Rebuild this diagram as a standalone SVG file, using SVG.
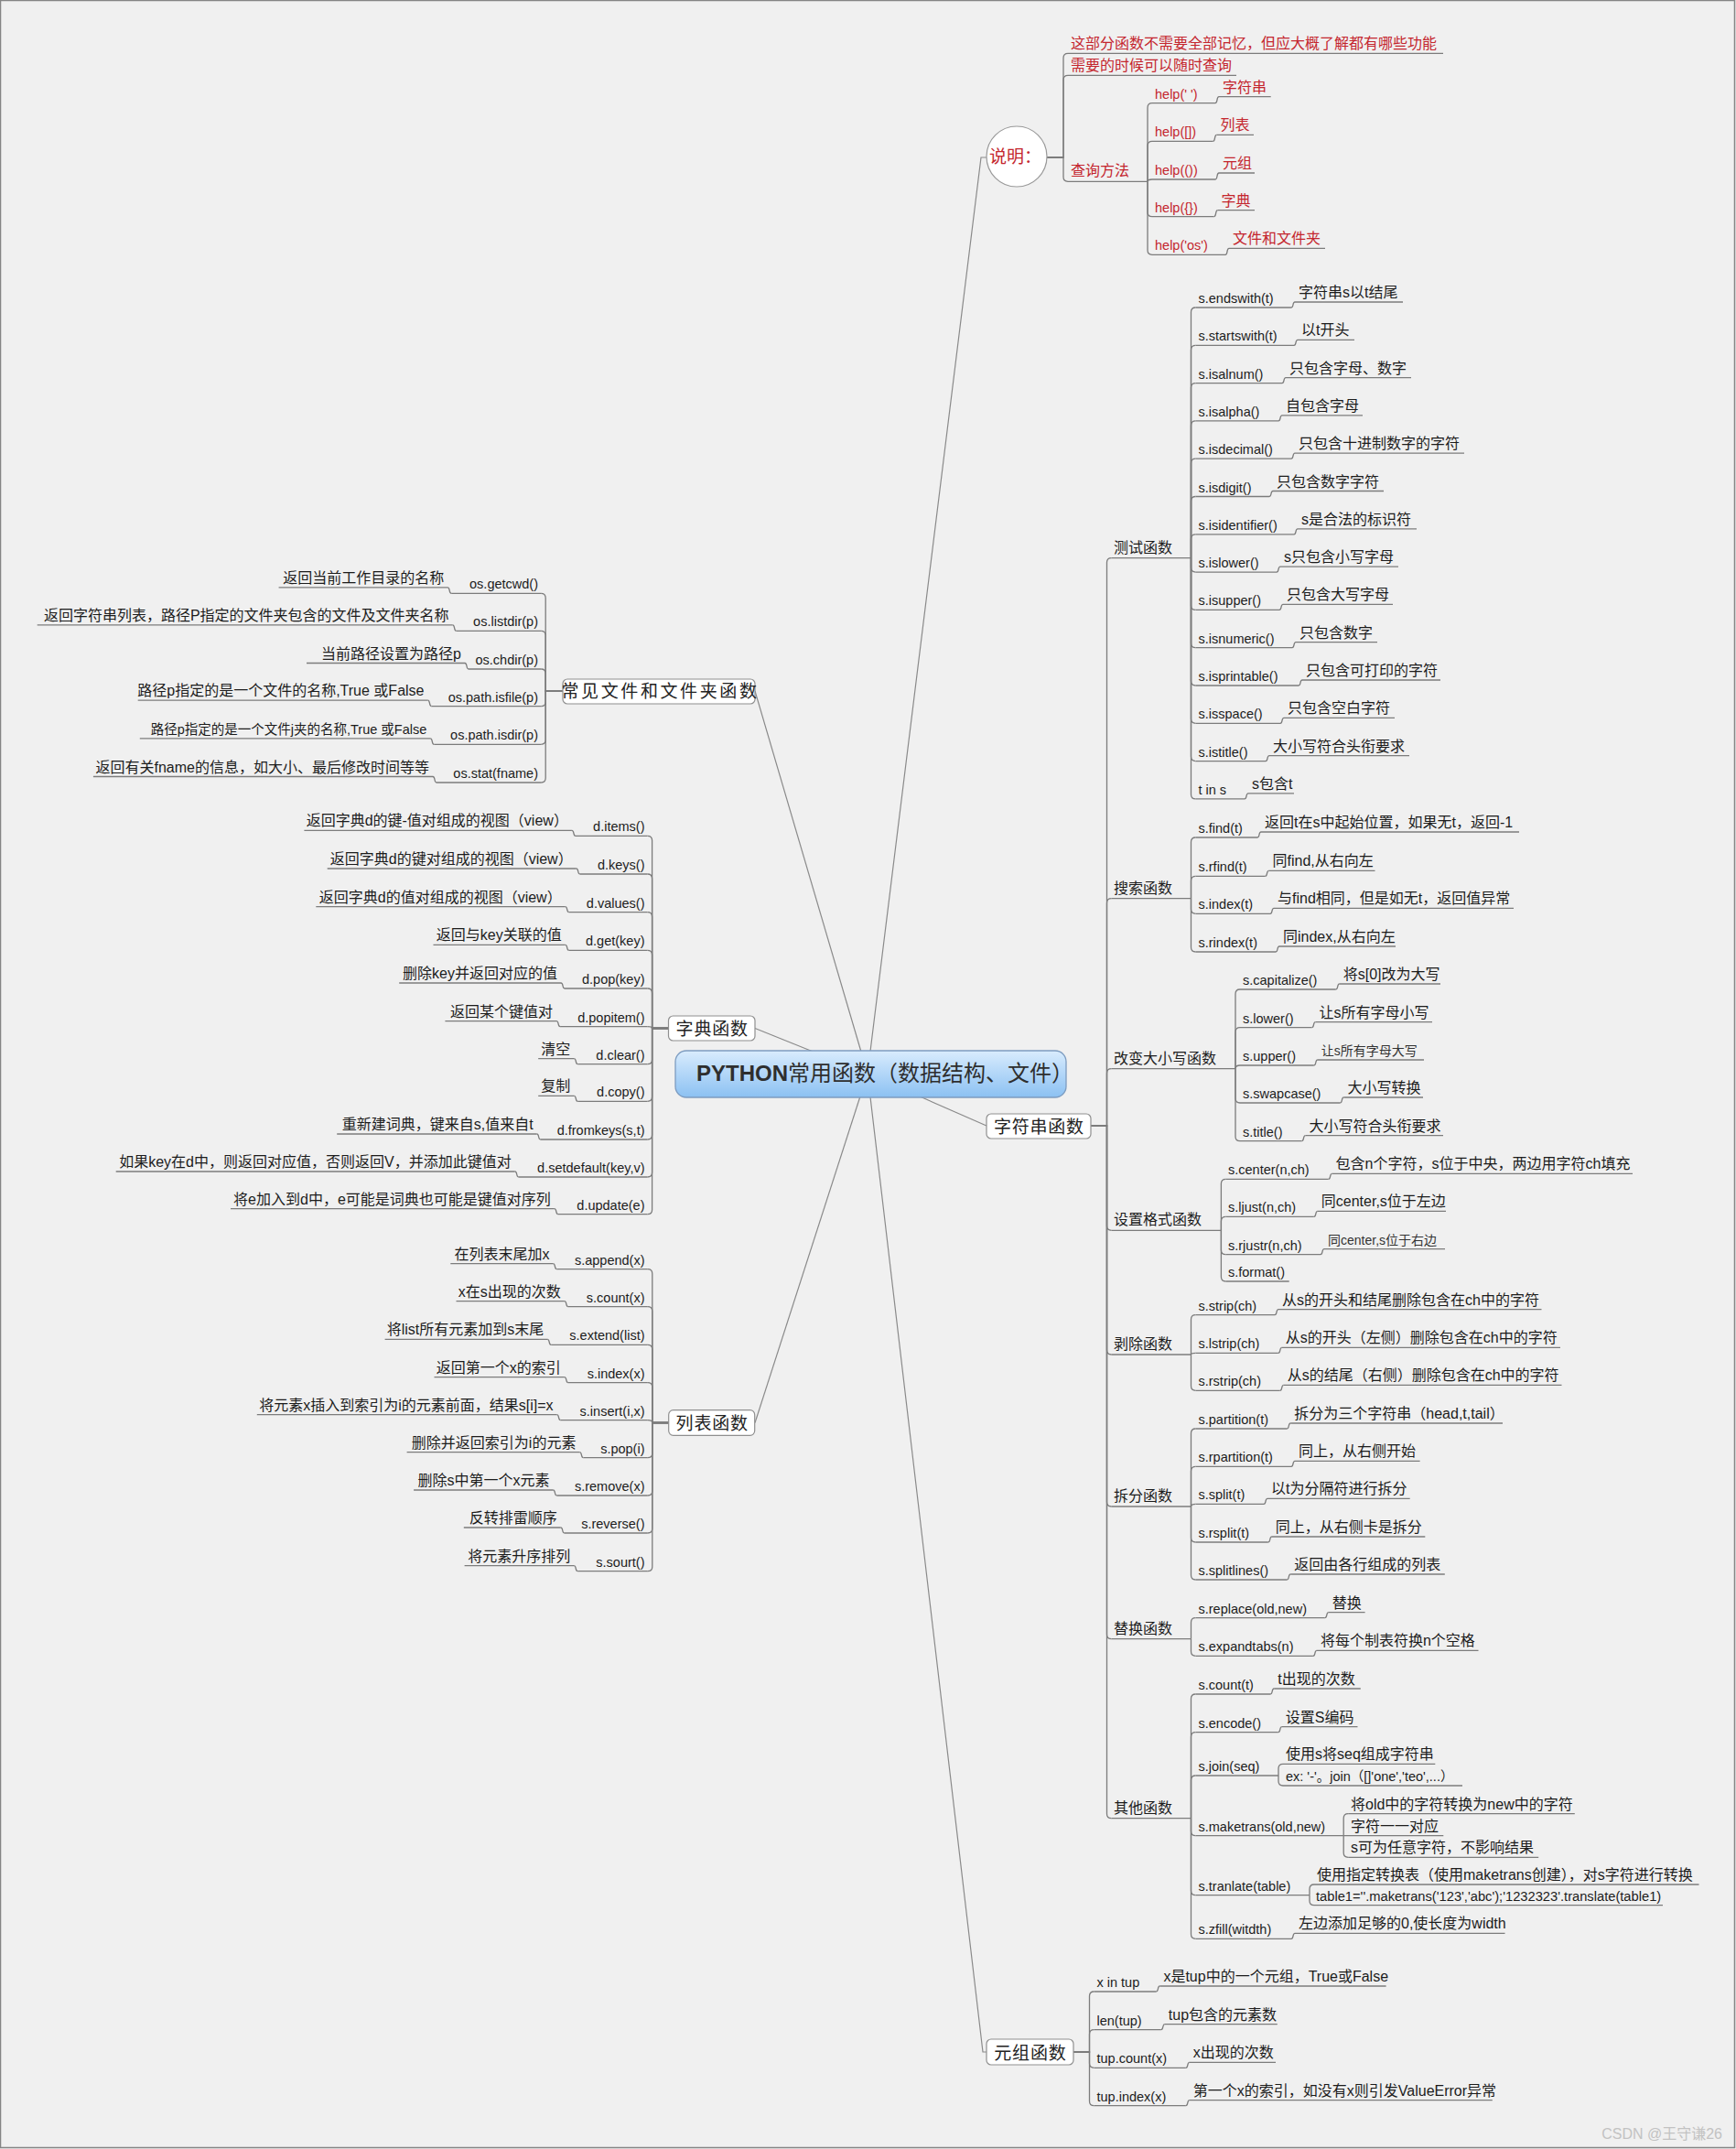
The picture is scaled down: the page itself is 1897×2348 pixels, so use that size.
<svg xmlns="http://www.w3.org/2000/svg" width="1897" height="2348" viewBox="0 0 1897 2348">
<defs>
<linearGradient id="cg" x1="0" y1="0" x2="0" y2="1">
<stop offset="0" stop-color="#d9ecfd"/>
<stop offset="0.5" stop-color="#b2d6f8"/>
<stop offset="1" stop-color="#8cc1f2"/>
</linearGradient>
<style>
.w{fill:none;stroke:#7c7c7c;stroke-width:1.3}
.m{fill:none;stroke:#8a8a8a;stroke-width:1.2}
.u{fill:none;stroke:#7c7c7c;stroke-width:1.3}
text{font-family:"Liberation Sans","Noto Sans CJK SC",sans-serif;fill:#1c1c1c}
.c{font-size:14.5px}
.l{font-size:16px}
.s{font-size:14px;fill:#333}
.k{font-size:16px}
.e{text-anchor:end}
.r{fill:#c4262e}
.box{fill:#fff;stroke:#8f8f8f;stroke-width:1.2}
.t{font-family:"Noto Sans CJK SC",sans-serif;font-size:19px;letter-spacing:0.8px;text-anchor:middle;fill:#222}
.wm{fill:#c2c2c2;font-size:16px;text-anchor:end}
.ti{fill:#2e2e2e;font-size:24px}
</style>
</defs>
<rect x="0" y="0" width="1897" height="2348" fill="#f0f0f0"/>
<rect x="0.5" y="0.5" width="1895" height="2346" fill="none" stroke="#858585" stroke-width="1.5"/>

<g id="connectors">
<path class="m" d="M948 1173L1072 172H1078"/>
<path class="m" d="M948 1173L825 755"/>
<path class="m" d="M948 1173L825 1123.5"/>
<path class="m" d="M948 1173L825 1554.5"/>
<path class="m" d="M948 1173L1078 1230"/>
<path class="m" d="M948 1173L1074 2242H1078"/>
<path class="w" d="M1144 172H1162V63.3Q1162 58.3 1167 58.3"/>
<path class="w" d="M1144 172H1162V87.3Q1162 82.3 1167 82.3"/>
<path class="w" d="M1144 172H1162V193.3Q1162 198.3 1167 198.3"/>
<path class="w" d="M1254 198.3V117.7Q1254 112.7 1259 112.7"/>
<path class="w" d="M1254 198.3V159.3Q1254 154.3 1259 154.3"/>
<path class="w" d="M1254 198.3Q1254 196 1259 196"/>
<path class="w" d="M1254 198.3V231.7Q1254 236.7 1259 236.7"/>
<path class="w" d="M1254 198.3V273.3Q1254 278.3 1259 278.3"/>
<path class="w" d="M1328 112.7C1331 112.7 1329 105.7 1332 105.7"/>
<path class="w" d="M1325.5 154.3C1328.5 154.3 1326.5 147.3 1329.5 147.3"/>
<path class="w" d="M1328 196C1331 196 1329 189 1332 189"/>
<path class="w" d="M1326.6 236.7C1329.6 236.7 1327.6 229.7 1330.6 229.7"/>
<path class="w" d="M1339 278.3C1342 278.3 1340 271.3 1343 271.3"/>
<path class="w" d="M1192 1230H1209.5V614.6Q1209.5 609.6 1214.5 609.6"/>
<path class="w" d="M1192 1230H1209.5V986.7Q1209.5 981.7 1214.5 981.7"/>
<path class="w" d="M1192 1230H1209.5V1172.7Q1209.5 1167.7 1214.5 1167.7"/>
<path class="w" d="M1192 1230H1209.5V1339.3Q1209.5 1344.3 1214.5 1344.3"/>
<path class="w" d="M1192 1230H1209.5V1475Q1209.5 1480 1214.5 1480"/>
<path class="w" d="M1192 1230H1209.5V1641Q1209.5 1646 1214.5 1646"/>
<path class="w" d="M1192 1230H1209.5V1785.7Q1209.5 1790.7 1214.5 1790.7"/>
<path class="w" d="M1192 1230H1209.5V1981.7Q1209.5 1986.7 1214.5 1986.7"/>
<path class="w" d="M1301.5 609.6V341Q1301.5 336 1306.5 336"/>
<path class="w" d="M1301.5 609.6V382.3Q1301.5 377.3 1306.5 377.3"/>
<path class="w" d="M1301.5 609.6V423.6Q1301.5 418.6 1306.5 418.6"/>
<path class="w" d="M1301.5 609.6V464.9Q1301.5 459.9 1306.5 459.9"/>
<path class="w" d="M1301.5 609.6V506.2Q1301.5 501.2 1306.5 501.2"/>
<path class="w" d="M1301.5 609.6V547.5Q1301.5 542.5 1306.5 542.5"/>
<path class="w" d="M1301.5 609.6V588.8Q1301.5 583.8 1306.5 583.8"/>
<path class="w" d="M1301.5 609.6V620.1Q1301.5 625.1 1306.5 625.1"/>
<path class="w" d="M1301.5 609.6V661.4Q1301.5 666.4 1306.5 666.4"/>
<path class="w" d="M1301.5 609.6V702.7Q1301.5 707.7 1306.5 707.7"/>
<path class="w" d="M1301.5 609.6V744Q1301.5 749 1306.5 749"/>
<path class="w" d="M1301.5 609.6V785.3Q1301.5 790.3 1306.5 790.3"/>
<path class="w" d="M1301.5 609.6V826.6Q1301.5 831.6 1306.5 831.6"/>
<path class="w" d="M1301.5 609.6V867.9Q1301.5 872.9 1306.5 872.9"/>
<path class="w" d="M1411 336C1414 336 1412 330 1415 330"/>
<path class="w" d="M1414 377.3C1417 377.3 1415 371.3 1418 371.3"/>
<path class="w" d="M1401 418.6C1404 418.6 1402 412.6 1405 412.6"/>
<path class="w" d="M1397 459.9C1400 459.9 1398 453.9 1401 453.9"/>
<path class="w" d="M1411 501.2C1414 501.2 1412 495.2 1415 495.2"/>
<path class="w" d="M1387 542.5C1390 542.5 1388 536.5 1391 536.5"/>
<path class="w" d="M1414 583.8C1417 583.8 1415 577.8 1418 577.8"/>
<path class="w" d="M1395 625.1C1398 625.1 1396 619.1 1399 619.1"/>
<path class="w" d="M1398 666.4C1401 666.4 1399 660.4 1402 660.4"/>
<path class="w" d="M1412 707.7C1415 707.7 1413 701.7 1416 701.7"/>
<path class="w" d="M1419 749C1422 749 1420 743 1423 743"/>
<path class="w" d="M1399 790.3C1402 790.3 1400 784.3 1403 784.3"/>
<path class="w" d="M1383 831.6C1386 831.6 1384 825.6 1387 825.6"/>
<path class="w" d="M1360 872.9C1363 872.9 1361 866.9 1364 866.9"/>
<path class="w" d="M1301.5 981.7V920Q1301.5 915 1306.5 915"/>
<path class="w" d="M1301.5 981.7V962.3Q1301.5 957.3 1306.5 957.3"/>
<path class="w" d="M1301.5 981.7V993.3Q1301.5 998.3 1306.5 998.3"/>
<path class="w" d="M1301.5 981.7V1035Q1301.5 1040 1306.5 1040"/>
<path class="w" d="M1374 915C1377 915 1375 909 1378 909"/>
<path class="w" d="M1382.5 957.3C1385.5 957.3 1383.5 951.3 1386.5 951.3"/>
<path class="w" d="M1388 998.3C1391 998.3 1389 992.3 1392 992.3"/>
<path class="w" d="M1394 1040C1397 1040 1395 1034 1398 1034"/>
<path class="w" d="M1350 1167.7V1086Q1350 1081 1355 1081"/>
<path class="w" d="M1350 1167.7V1127.7Q1350 1122.7 1355 1122.7"/>
<path class="w" d="M1350 1167.7Q1350 1164 1355 1164"/>
<path class="w" d="M1350 1167.7V1200Q1350 1205 1355 1205"/>
<path class="w" d="M1350 1167.7V1241.7Q1350 1246.7 1355 1246.7"/>
<path class="w" d="M1459.7 1081C1462.7 1081 1460.7 1075 1463.7 1075"/>
<path class="w" d="M1433.5 1122.7C1436.5 1122.7 1434.5 1116.7 1437.5 1116.7"/>
<path class="w" d="M1435.8 1164C1438.8 1164 1436.8 1158 1439.8 1158"/>
<path class="w" d="M1464.4 1205C1467.4 1205 1465.4 1199 1468.4 1199"/>
<path class="w" d="M1422.5 1246.7C1425.5 1246.7 1423.5 1240.7 1426.5 1240.7"/>
<path class="w" d="M1334.4 1344.3V1293.3Q1334.4 1288.3 1339.4 1288.3"/>
<path class="w" d="M1334.4 1344.3V1334.3Q1334.4 1329.3 1339.4 1329.3"/>
<path class="w" d="M1334.4 1344.3V1365.7Q1334.4 1370.7 1339.4 1370.7"/>
<path class="w" d="M1334.4 1344.3V1395Q1334.4 1400 1339.4 1400"/>
<path class="w" d="M1451.6 1288.3C1454.6 1288.3 1452.6 1282.3 1455.6 1282.3"/>
<path class="w" d="M1435.8 1329.3C1438.8 1329.3 1436.8 1323.3 1439.8 1323.3"/>
<path class="w" d="M1443 1370.7C1446 1370.7 1444 1364.7 1447 1364.7"/>
<path class="w" d="M1301.5 1480V1441.7Q1301.5 1436.7 1306.5 1436.7"/>
<path class="w" d="M1301.5 1480Q1301.5 1478.3 1306.5 1478.3"/>
<path class="w" d="M1301.5 1480V1514.3Q1301.5 1519.3 1306.5 1519.3"/>
<path class="w" d="M1393 1436.7C1396 1436.7 1394 1430.7 1397 1430.7"/>
<path class="w" d="M1396.8 1478.3C1399.8 1478.3 1397.8 1472.3 1400.8 1472.3"/>
<path class="w" d="M1398.7 1519.3C1401.7 1519.3 1399.7 1513.3 1402.7 1513.3"/>
<path class="w" d="M1301.5 1646V1566Q1301.5 1561 1306.5 1561"/>
<path class="w" d="M1301.5 1646V1607.3Q1301.5 1602.3 1306.5 1602.3"/>
<path class="w" d="M1301.5 1646Q1301.5 1643.3 1306.5 1643.3"/>
<path class="w" d="M1301.5 1646V1680Q1301.5 1685 1306.5 1685"/>
<path class="w" d="M1301.5 1646V1721Q1301.5 1726 1306.5 1726"/>
<path class="w" d="M1406.3 1561C1409.3 1561 1407.3 1555 1410.3 1555"/>
<path class="w" d="M1411 1602.3C1414 1602.3 1412 1596.3 1415 1596.3"/>
<path class="w" d="M1381 1643.3C1384 1643.3 1382 1637.3 1385 1637.3"/>
<path class="w" d="M1385.8 1685C1388.8 1685 1386.8 1679 1389.8 1679"/>
<path class="w" d="M1406.3 1726C1409.3 1726 1407.3 1720 1410.3 1720"/>
<path class="w" d="M1301.5 1790.7V1772.7Q1301.5 1767.7 1306.5 1767.7"/>
<path class="w" d="M1301.5 1790.7V1804.3Q1301.5 1809.3 1306.5 1809.3"/>
<path class="w" d="M1447.8 1767.7C1450.8 1767.7 1448.8 1761.7 1451.8 1761.7"/>
<path class="w" d="M1434.9 1809.3C1437.9 1809.3 1435.9 1803.3 1438.9 1803.3"/>
<path class="w" d="M1301.5 1986.7V1856Q1301.5 1851 1306.5 1851"/>
<path class="w" d="M1301.5 1986.7V1897.7Q1301.5 1892.7 1306.5 1892.7"/>
<path class="w" d="M1301.5 1986.7V1945Q1301.5 1940 1306.5 1940"/>
<path class="w" d="M1301.5 1986.7V2000.7Q1301.5 2005.7 1306.5 2005.7"/>
<path class="w" d="M1301.5 1986.7V2065.7Q1301.5 2070.7 1306.5 2070.7"/>
<path class="w" d="M1301.5 1986.7V2113.3Q1301.5 2118.3 1306.5 2118.3"/>
<path class="w" d="M1388.2 1851C1391.2 1851 1389.2 1845 1392.2 1845"/>
<path class="w" d="M1396.8 1892.7C1399.8 1892.7 1397.8 1886.7 1400.8 1886.7"/>
<path class="w" d="M1397 1940V1932.3Q1397 1927.3 1402 1927.3"/>
<path class="w" d="M1397 1940V1946Q1397 1951 1402 1951"/>
<path class="w" d="M1468.2 2005.7V1986.7Q1468.2 1981.7 1473.2 1981.7"/>
<path class="w" d="M1468.2 2005.7V2024.3Q1468.2 2029.3 1473.2 2029.3"/>
<path class="w" d="M1431 2070.7V2064Q1431 2059 1436 2059"/>
<path class="w" d="M1431 2070.7V2076.7Q1431 2081.7 1436 2081.7"/>
<path class="w" d="M1411 2118.3C1414 2118.3 1412 2112.3 1415 2112.3"/>
<path class="w" d="M1173 2242H1190.5V2181Q1190.5 2176 1195.5 2176"/>
<path class="w" d="M1173 2242H1190.5V2222.7Q1190.5 2217.7 1195.5 2217.7"/>
<path class="w" d="M1173 2242H1190.5V2254.3Q1190.5 2259.3 1195.5 2259.3"/>
<path class="w" d="M1173 2242H1190.5V2295.7Q1190.5 2300.7 1195.5 2300.7"/>
<path class="w" d="M1263.4 2176C1266.4 2176 1264.4 2170 1267.4 2170"/>
<path class="w" d="M1268.8 2217.7C1271.8 2217.7 1269.8 2211.7 1272.8 2211.7"/>
<path class="w" d="M1295.8 2259.3C1298.8 2259.3 1296.8 2253.3 1299.8 2253.3"/>
<path class="w" d="M1295.8 2300.7C1298.8 2300.7 1296.8 2294.7 1299.8 2294.7"/>
<path class="w" d="M615 755H596.2V653.3Q596.2 648.3 591.2 648.3"/>
<path class="w" d="M615 755H596.2V694.3Q596.2 689.3 591.2 689.3"/>
<path class="w" d="M615 755H596.2V736Q596.2 731 591.2 731"/>
<path class="w" d="M615 755H596.2V766.7Q596.2 771.7 591.2 771.7"/>
<path class="w" d="M615 755H596.2V808.3Q596.2 813.3 591.2 813.3"/>
<path class="w" d="M615 755H596.2V850Q596.2 855 591.2 855"/>
<path class="w" d="M493.2 648.3C490.2 648.3 492.2 641.8 489.2 641.8"/>
<path class="w" d="M498.6 689.3C495.6 689.3 497.6 682.8 494.6 682.8"/>
<path class="w" d="M512 731C509 731 511 724.5 508 724.5"/>
<path class="w" d="M471.5 771.7C468.5 771.7 470.5 765.2 467.5 765.2"/>
<path class="w" d="M474.3 813.3C471.3 813.3 473.3 806.8 470.3 806.8"/>
<path class="w" d="M477 855C474 855 476 848.5 473 848.5"/>
<path class="w" d="M730.5 1123.5H712.6V918.3Q712.6 913.3 707.6 913.3"/>
<path class="w" d="M730.5 1123.5H712.6V960Q712.6 955 707.6 955"/>
<path class="w" d="M730.5 1123.5H712.6V1001.7Q712.6 996.7 707.6 996.7"/>
<path class="w" d="M730.5 1123.5H712.6V1043.3Q712.6 1038.3 707.6 1038.3"/>
<path class="w" d="M730.5 1123.5H712.6V1085Q712.6 1080 707.6 1080"/>
<path class="w" d="M730.5 1123.5H712.6Q712.6 1121.7 707.6 1121.7"/>
<path class="w" d="M730.5 1123.5H712.6V1157.7Q712.6 1162.7 707.6 1162.7"/>
<path class="w" d="M730.5 1123.5H712.6V1198.3Q712.6 1203.3 707.6 1203.3"/>
<path class="w" d="M730.5 1123.5H712.6V1240Q712.6 1245 707.6 1245"/>
<path class="w" d="M730.5 1123.5H712.6V1281Q712.6 1286 707.6 1286"/>
<path class="w" d="M730.5 1123.5H712.6V1321.7Q712.6 1326.7 707.6 1326.7"/>
<path class="w" d="M628.9 913.3C625.9 913.3 627.9 907.3 624.9 907.3"/>
<path class="w" d="M633.7 955C630.7 955 632.7 949 629.7 949"/>
<path class="w" d="M621.7 996.7C618.7 996.7 620.7 990.7 617.7 990.7"/>
<path class="w" d="M621.7 1038.3C618.7 1038.3 620.7 1032.3 617.7 1032.3"/>
<path class="w" d="M617 1080C614 1080 616 1074 613 1074"/>
<path class="w" d="M612.1 1121.7C609.1 1121.7 611.1 1115.7 608.1 1115.7"/>
<path class="w" d="M631.3 1162.7C628.3 1162.7 630.3 1156.7 627.3 1156.7"/>
<path class="w" d="M631.3 1203.3C628.3 1203.3 630.3 1197.3 627.3 1197.3"/>
<path class="w" d="M590.6 1245C587.6 1245 589.6 1239 586.6 1239"/>
<path class="w" d="M566.7 1286C563.7 1286 565.7 1280 562.7 1280"/>
<path class="w" d="M609.8 1326.7C606.8 1326.7 608.8 1320.7 605.8 1320.7"/>
<path class="w" d="M730.7 1554.5H712.8V1391.7Q712.8 1386.7 707.8 1386.7"/>
<path class="w" d="M730.7 1554.5H712.8V1432.7Q712.8 1427.7 707.8 1427.7"/>
<path class="w" d="M730.7 1554.5H712.8V1474.3Q712.8 1469.3 707.8 1469.3"/>
<path class="w" d="M730.7 1554.5H712.8V1515.7Q712.8 1510.7 707.8 1510.7"/>
<path class="w" d="M730.7 1554.5H712.8Q712.8 1551.7 707.8 1551.7"/>
<path class="w" d="M730.7 1554.5H712.8V1587.7Q712.8 1592.7 707.8 1592.7"/>
<path class="w" d="M730.7 1554.5H712.8V1629Q712.8 1634 707.8 1634"/>
<path class="w" d="M730.7 1554.5H712.8V1670Q712.8 1675 707.8 1675"/>
<path class="w" d="M730.7 1554.5H712.8V1711.7Q712.8 1716.7 707.8 1716.7"/>
<path class="w" d="M608.4 1386.7C605.4 1386.7 607.4 1380.7 604.4 1380.7"/>
<path class="w" d="M620.8 1427.7C617.8 1427.7 619.8 1421.7 616.8 1421.7"/>
<path class="w" d="M602.2 1469.3C599.2 1469.3 601.2 1463.3 598.2 1463.3"/>
<path class="w" d="M620.8 1510.7C617.8 1510.7 619.8 1504.7 616.8 1504.7"/>
<path class="w" d="M612.5 1551.7C609.5 1551.7 611.5 1545.7 608.5 1545.7"/>
<path class="w" d="M637.4 1592.7C634.4 1592.7 636.4 1586.7 633.4 1586.7"/>
<path class="w" d="M608.4 1634C605.4 1634 607.4 1628 604.4 1628"/>
<path class="w" d="M616.7 1675C613.7 1675 615.7 1669 612.7 1669"/>
<path class="w" d="M631.2 1716.7C628.2 1716.7 630.2 1710.7 627.2 1710.7"/>
</g>

<g id="n-root">
<rect x="738" y="1148" width="427" height="51" rx="12" fill="url(#cg)" stroke="#7d9cc0" stroke-width="1.3"/>
<text class="ti" x="761" y="1181"><tspan font-weight="bold" style="font-family:'Liberation Sans',sans-serif">PYTHON</tspan><tspan style="font-family:'Noto Sans CJK SC',sans-serif">常用函数（数据结构、文件）</tspan></text>
</g>

<g id="n-note">
<circle cx="1111" cy="171" r="33" fill="#fff" stroke="#9a9a9a" stroke-width="1.2"/>
<text class="r" x="1081" y="178" style="font-size:19px">说明：</text>
</g>
<g id="n-note1"><path class="u" d="M1167 58.3H1577"/><text class="l r" x="1170" y="53">这部分函数不需要全部记忆，但应大概了解都有哪些功能</text></g>
<g id="n-note2"><path class="u" d="M1167 82.3H1351"/><text class="l r" x="1170" y="77">需要的时候可以随时查询</text></g>
<g id="n-note3"><path class="u" d="M1167 198.3H1254"/><text class="l r" x="1170" y="192.3">查询方法</text></g>
<g id="n-help1"><path class="u" d="M1259 112.7H1328"/><text class="c r" x="1262" y="107.7">help(' ')</text></g>
<g id="n-help2"><path class="u" d="M1259 154.3H1325.5"/><text class="c r" x="1262" y="149.3">help([])</text></g>
<g id="n-help3"><path class="u" d="M1259 196H1328"/><text class="c r" x="1262" y="191">help(())</text></g>
<g id="n-help4"><path class="u" d="M1259 236.7H1326.6"/><text class="c r" x="1262" y="231.7">help({})</text></g>
<g id="n-help5"><path class="u" d="M1259 278.3H1339"/><text class="c r" x="1262" y="273.3">help('os')</text></g>
<g id="n-help1-d"><path class="u" d="M1332 105.7H1388.7"/><text class="l r" x="1336" y="100.7">字符串</text></g>
<g id="n-help2-d"><path class="u" d="M1329.5 147.3H1370"/><text class="l r" x="1333.5" y="142.3">列表</text></g>
<g id="n-help3-d"><path class="u" d="M1332 189H1371"/><text class="l r" x="1336" y="184">元组</text></g>
<g id="n-help4-d"><path class="u" d="M1330.6 229.7H1371"/><text class="l r" x="1334.6" y="224.7">字典</text></g>
<g id="n-help5-d"><path class="u" d="M1343 271.3H1448"/><text class="l r" x="1347" y="266.3">文件和文件夹</text></g>

<g id="n-str"><rect class="box" x="1078" y="1217" width="114" height="27" rx="5"/><text class="t" x="1135.4" y="1237.5">字符串函数</text></g>
<g id="n-cat-test"><path class="u" d="M1214.5 609.6H1301.5"/><text class="k" x="1217" y="603.6">测试函数</text></g>
<g id="n-cat-search"><path class="u" d="M1214.5 981.7H1301.5"/><text class="k" x="1217" y="975.7">搜索函数</text></g>
<g id="n-cat-case"><path class="u" d="M1214.5 1167.7H1350"/><text class="k" x="1217" y="1161.7">改变大小写函数</text></g>
<g id="n-cat-fmt"><path class="u" d="M1214.5 1344.3H1334.4"/><text class="k" x="1217" y="1338.3">设置格式函数</text></g>
<g id="n-cat-strip"><path class="u" d="M1214.5 1480H1301.5"/><text class="k" x="1217" y="1474">剥除函数</text></g>
<g id="n-cat-split"><path class="u" d="M1214.5 1646H1301.5"/><text class="k" x="1217" y="1640">拆分函数</text></g>
<g id="n-cat-repl"><path class="u" d="M1214.5 1790.7H1301.5"/><text class="k" x="1217" y="1784.7">替换函数</text></g>
<g id="n-cat-other"><path class="u" d="M1214.5 1986.7H1301.5"/><text class="k" x="1217" y="1980.7">其他函数</text></g>

<g id="n-endswith"><path class="u" d="M1306.5 336H1411"/><text class="c" x="1309.5" y="331">s.endswith(t)</text></g>
<g id="n-endswith-d"><path class="u" d="M1415 330H1533"/><text class="l" x="1419" y="325">字符串s以t结尾</text></g>
<g id="n-startswith"><path class="u" d="M1306.5 377.3H1414"/><text class="c" x="1309.5" y="372.3">s.startswith(t)</text></g>
<g id="n-startswith-d"><path class="u" d="M1418 371.3H1480"/><text class="l" x="1422" y="366.3">以t开头</text></g>
<g id="n-isalnum"><path class="u" d="M1306.5 418.6H1401"/><text class="c" x="1309.5" y="413.6">s.isalnum()</text></g>
<g id="n-isalnum-d"><path class="u" d="M1405 412.6H1542"/><text class="l" x="1409" y="407.6">只包含字母、数字</text></g>
<g id="n-isalpha"><path class="u" d="M1306.5 459.9H1397"/><text class="c" x="1309.5" y="454.9">s.isalpha()</text></g>
<g id="n-isalpha-d"><path class="u" d="M1401 453.9H1489"/><text class="l" x="1405" y="448.9">自包含字母</text></g>
<g id="n-isdecimal"><path class="u" d="M1306.5 501.2H1411"/><text class="c" x="1309.5" y="496.2">s.isdecimal()</text></g>
<g id="n-isdecimal-d"><path class="u" d="M1415 495.2H1600"/><text class="l" x="1419" y="490.2">只包含十进制数字的字符</text></g>
<g id="n-isdigit"><path class="u" d="M1306.5 542.5H1387"/><text class="c" x="1309.5" y="537.5">s.isdigit()</text></g>
<g id="n-isdigit-d"><path class="u" d="M1391 536.5H1512"/><text class="l" x="1395" y="531.5">只包含数字字符</text></g>
<g id="n-isidentifier"><path class="u" d="M1306.5 583.8H1414"/><text class="c" x="1309.5" y="578.8">s.isidentifier()</text></g>
<g id="n-isidentifier-d"><path class="u" d="M1418 577.8H1548"/><text class="l" x="1422" y="572.8">s是合法的标识符</text></g>
<g id="n-islower"><path class="u" d="M1306.5 625.1H1395"/><text class="c" x="1309.5" y="620.1">s.islower()</text></g>
<g id="n-islower-d"><path class="u" d="M1399 619.1H1528"/><text class="l" x="1403" y="614.1">s只包含小写字母</text></g>
<g id="n-isupper"><path class="u" d="M1306.5 666.4H1398"/><text class="c" x="1309.5" y="661.4">s.isupper()</text></g>
<g id="n-isupper-d"><path class="u" d="M1402 660.4H1522"/><text class="l" x="1406" y="655.4">只包含大写字母</text></g>
<g id="n-isnumeric"><path class="u" d="M1306.5 707.7H1412"/><text class="c" x="1309.5" y="702.7">s.isnumeric()</text></g>
<g id="n-isnumeric-d"><path class="u" d="M1416 701.7H1505"/><text class="l" x="1420" y="696.7">只包含数字</text></g>
<g id="n-isprintable"><path class="u" d="M1306.5 749H1419"/><text class="c" x="1309.5" y="744">s.isprintable()</text></g>
<g id="n-isprintable-d"><path class="u" d="M1423 743H1574"/><text class="l" x="1427" y="738">只包含可打印的字符</text></g>
<g id="n-isspace"><path class="u" d="M1306.5 790.3H1399"/><text class="c" x="1309.5" y="785.3">s.isspace()</text></g>
<g id="n-isspace-d"><path class="u" d="M1403 784.3H1524"/><text class="l" x="1407" y="779.3">只包含空白字符</text></g>
<g id="n-istitle"><path class="u" d="M1306.5 831.6H1383"/><text class="c" x="1309.5" y="826.6">s.istitle()</text></g>
<g id="n-istitle-d"><path class="u" d="M1387 825.6H1540"/><text class="l" x="1391" y="820.6">大小写符合头衔要求</text></g>
<g id="n-tins"><path class="u" d="M1306.5 872.9H1360"/><text class="c" x="1309.5" y="867.9">t in s</text></g>
<g id="n-tins-d"><path class="u" d="M1364 866.9H1414"/><text class="l" x="1368" y="861.9">s包含t</text></g>

<g id="n-find"><path class="u" d="M1306.5 915H1374"/><text class="c" x="1309.5" y="910">s.find(t)</text></g>
<g id="n-find-d"><path class="u" d="M1378 909H1660"/><text class="l" x="1382" y="904">返回t在s中起始位置，如果无t，返回-1</text></g>
<g id="n-rfind"><path class="u" d="M1306.5 957.3H1382.5"/><text class="c" x="1309.5" y="952.3">s.rfind(t)</text></g>
<g id="n-rfind-d"><path class="u" d="M1386.5 951.3H1502.5"/><text class="l" x="1390.5" y="946.3">同find,从右向左</text></g>
<g id="n-index"><path class="u" d="M1306.5 998.3H1388"/><text class="c" x="1309.5" y="993.3">s.index(t)</text></g>
<g id="n-index-d"><path class="u" d="M1392 992.3H1654"/><text class="l" x="1396" y="987.3">与find相同，但是如无t，返回值异常</text></g>
<g id="n-rindex"><path class="u" d="M1306.5 1040H1394"/><text class="c" x="1309.5" y="1035">s.rindex(t)</text></g>
<g id="n-rindex-d"><path class="u" d="M1398 1034H1525"/><text class="l" x="1402" y="1029">同index,从右向左</text></g>

<g id="n-capitalize"><path class="u" d="M1355 1081H1459.7"/><text class="c" x="1358" y="1076">s.capitalize()</text></g>
<g id="n-capitalize-d"><path class="u" d="M1463.7 1075H1574"/><text class="l" x="1467.7" y="1070">将s[0]改为大写</text></g>
<g id="n-lower"><path class="u" d="M1355 1122.7H1433.5"/><text class="c" x="1358" y="1117.7">s.lower()</text></g>
<g id="n-lower-d"><path class="u" d="M1437.5 1116.7H1565"/><text class="l" x="1441.5" y="1111.7">让s所有字母小写</text></g>
<g id="n-upper"><path class="u" d="M1355 1164H1435.8"/><text class="c" x="1358" y="1159">s.upper()</text></g>
<g id="n-upper-d"><path class="u" d="M1439.8 1158H1556"/><text class="s" x="1443.8" y="1153">让s所有字母大写</text></g>
<g id="n-swapcase"><path class="u" d="M1355 1205H1464.4"/><text class="c" x="1358" y="1200">s.swapcase()</text></g>
<g id="n-swapcase-d"><path class="u" d="M1468.4 1199H1555"/><text class="l" x="1472.4" y="1194">大小写转换</text></g>
<g id="n-title"><path class="u" d="M1355 1246.7H1422.5"/><text class="c" x="1358" y="1241.7">s.title()</text></g>
<g id="n-title-d"><path class="u" d="M1426.5 1240.7H1577"/><text class="l" x="1430.5" y="1235.7">大小写符合头衔要求</text></g>

<g id="n-center"><path class="u" d="M1339.4 1288.3H1451.6"/><text class="c" x="1342" y="1283.3">s.center(n,ch)</text></g>
<g id="n-center-d"><path class="u" d="M1455.6 1282.3H1784"/><text class="l" x="1459.6" y="1277.3">包含n个字符，s位于中央，两边用字符ch填充</text></g>
<g id="n-ljust"><path class="u" d="M1339.4 1329.3H1435.8"/><text class="c" x="1342" y="1324.3">s.ljust(n,ch)</text></g>
<g id="n-ljust-d"><path class="u" d="M1439.8 1323.3H1580"/><text class="l" x="1443.8" y="1318.3">同center,s位于左边</text></g>
<g id="n-rjustr"><path class="u" d="M1339.4 1370.7H1443"/><text class="c" x="1342" y="1365.7">s.rjustr(n,ch)</text></g>
<g id="n-rjustr-d"><path class="u" d="M1447 1364.7H1579"/><text class="s" x="1451" y="1359.7">同center,s位于右边</text></g>
<g id="n-format"><path class="u" d="M1339.4 1400H1408.7"/><text class="c" x="1342" y="1395">s.format()</text></g>

<g id="n-strip"><path class="u" d="M1306.5 1436.7H1393"/><text class="c" x="1309.5" y="1431.7">s.strip(ch)</text></g>
<g id="n-strip-d"><path class="u" d="M1397 1430.7H1684.5"/><text class="l" x="1401" y="1425.7">从s的开头和结尾删除包含在ch中的字符</text></g>
<g id="n-lstrip"><path class="u" d="M1306.5 1478.3H1396.8"/><text class="c" x="1309.5" y="1473.3">s.lstrip(ch)</text></g>
<g id="n-lstrip-d"><path class="u" d="M1400.8 1472.3H1705"/><text class="l" x="1404.8" y="1467.3">从s的开头（左侧）删除包含在ch中的字符</text></g>
<g id="n-rstrip"><path class="u" d="M1306.5 1519.3H1398.7"/><text class="c" x="1309.5" y="1514.3">s.rstrip(ch)</text></g>
<g id="n-rstrip-d"><path class="u" d="M1402.7 1513.3H1706.5"/><text class="l" x="1406.7" y="1508.3">从s的结尾（右侧）删除包含在ch中的字符</text></g>

<g id="n-partition"><path class="u" d="M1306.5 1561H1406.3"/><text class="c" x="1309.5" y="1556">s.partition(t)</text></g>
<g id="n-partition-d"><path class="u" d="M1410.3 1555H1642"/><text class="l" x="1414.3" y="1550">拆分为三个字符串（head,t,tail）</text></g>
<g id="n-rpartition"><path class="u" d="M1306.5 1602.3H1411"/><text class="c" x="1309.5" y="1597.3">s.rpartition(t)</text></g>
<g id="n-rpartition-d"><path class="u" d="M1415 1596.3H1551.6"/><text class="l" x="1419" y="1591.3">同上，从右侧开始</text></g>
<g id="n-split"><path class="u" d="M1306.5 1643.3H1381"/><text class="c" x="1309.5" y="1638.3">s.split(t)</text></g>
<g id="n-split-d"><path class="u" d="M1385 1637.3H1540.7"/><text class="l" x="1389" y="1632.3">以t为分隔符进行拆分</text></g>
<g id="n-rsplit"><path class="u" d="M1306.5 1685H1385.8"/><text class="c" x="1309.5" y="1680">s.rsplit(t)</text></g>
<g id="n-rsplit-d"><path class="u" d="M1389.8 1679H1557.3"/><text class="l" x="1393.8" y="1674">同上，从右侧卡是拆分</text></g>
<g id="n-splitlines"><path class="u" d="M1306.5 1726H1406.3"/><text class="c" x="1309.5" y="1721">s.splitlines()</text></g>
<g id="n-splitlines-d"><path class="u" d="M1410.3 1720H1578.8"/><text class="l" x="1414.3" y="1715">返回由各行组成的列表</text></g>

<g id="n-replace"><path class="u" d="M1306.5 1767.7H1447.8"/><text class="c" x="1309.5" y="1762.7">s.replace(old,new)</text></g>
<g id="n-replace-d"><path class="u" d="M1451.8 1761.7H1491.6"/><text class="l" x="1455.8" y="1756.7">替换</text></g>
<g id="n-expandtabs"><path class="u" d="M1306.5 1809.3H1434.9"/><text class="c" x="1309.5" y="1804.3">s.expandtabs(n)</text></g>
<g id="n-expandtabs-d"><path class="u" d="M1438.9 1803.3H1615.5"/><text class="l" x="1442.9" y="1798.3">将每个制表符换n个空格</text></g>

<g id="n-count"><path class="u" d="M1306.5 1851H1388.2"/><text class="c" x="1309.5" y="1846">s.count(t)</text></g>
<g id="n-count-d"><path class="u" d="M1392.2 1845H1486.8"/><text class="l" x="1396.2" y="1840">t出现的次数</text></g>
<g id="n-encode"><path class="u" d="M1306.5 1892.7H1396.8"/><text class="c" x="1309.5" y="1887.7">s.encode()</text></g>
<g id="n-encode-d"><path class="u" d="M1400.8 1886.7H1483.5"/><text class="l" x="1404.8" y="1881.7">设置S编码</text></g>
<g id="n-join"><path class="u" d="M1306.5 1940H1397"/><text class="c" x="1309.5" y="1935">s.join(seq)</text></g>
<g id="n-join-d1"><path class="u" d="M1402 1927.3H1568.3"/><text class="l" x="1405" y="1922.3">使用s将seq组成字符串</text></g>
<g id="n-join-d2"><path class="u" d="M1402 1951H1598"/><text class="c" x="1405" y="1946">ex: '-'。join（[]'one','teo',...）</text></g>
<g id="n-maketrans"><path class="u" d="M1306.5 2005.7H1468.2"/><text class="c" x="1309.5" y="2000.7">s.maketrans(old,new)</text></g>
<g id="n-maketrans-d1"><path class="u" d="M1473.2 1981.7H1720.8"/><text class="l" x="1476" y="1976.7">将old中的字符转换为new中的字符</text></g>
<g id="n-maketrans-d2"><path class="u" d="M1468.2 2005.7H1577.3"/><text class="l" x="1476" y="2000.7">字符一一对应</text></g>
<g id="n-maketrans-d3"><path class="u" d="M1473.2 2029.3H1681.2"/><text class="l" x="1476" y="2024.3">s可为任意字符，不影响结果</text></g>
<g id="n-translate"><path class="u" d="M1306.5 2070.7H1431"/><text class="c" x="1309.5" y="2065.7">s.tranlate(table)</text></g>
<g id="n-translate-d1"><path class="u" d="M1436 2059H1856.5"/><text class="l" x="1439" y="2054">使用指定转换表（使用maketrans创建），对s字符进行转换</text></g>
<g id="n-translate-d2"><path class="u" d="M1436 2081.7H1817"/><text x="1438" y="2076.7" style="font-size:14.7px">table1=''.maketrans('123','abc');'1232323'.translate(table1)</text></g>
<g id="n-zfill"><path class="u" d="M1306.5 2118.3H1411"/><text class="c" x="1309.5" y="2113.3">s.zfill(witdth)</text></g>
<g id="n-zfill-d"><path class="u" d="M1415 2112.3H1644.5"/><text class="l" x="1419" y="2107.3">左边添加足够的0,使长度为width</text></g>

<g id="n-tuple"><rect class="box" x="1078" y="2228" width="95" height="28" rx="5"/><text class="t" x="1125.9" y="2249.5">元组函数</text></g>
<g id="n-xintup"><path class="u" d="M1195.5 2176H1263.4"/><text class="c" x="1198.5" y="2171">x in tup</text></g>
<g id="n-xintup-d"><path class="u" d="M1267.4 2170H1514.6"/><text class="l" x="1271.4" y="2165">x是tup中的一个元组，True或False</text></g>
<g id="n-lentup"><path class="u" d="M1195.5 2217.7H1268.8"/><text class="c" x="1198.5" y="2212.7">len(tup)</text></g>
<g id="n-lentup-d"><path class="u" d="M1272.8 2211.7H1395.8"/><text class="l" x="1276.8" y="2206.7">tup包含的元素数</text></g>
<g id="n-tupcount"><path class="u" d="M1195.5 2259.3H1295.8"/><text class="c" x="1198.5" y="2254.3">tup.count(x)</text></g>
<g id="n-tupcount-d"><path class="u" d="M1299.8 2253.3H1394"/><text class="l" x="1303.8" y="2248.3">x出现的次数</text></g>
<g id="n-tupindex"><path class="u" d="M1195.5 2300.7H1295.8"/><text class="c" x="1198.5" y="2295.7">tup.index(x)</text></g>
<g id="n-tupindex-d"><path class="u" d="M1299.8 2294.7H1630.8"/><text class="l" x="1303.8" y="2289.7">第一个x的索引，如没有x则引发ValueError异常</text></g>

<g id="n-os"><rect class="box" x="615" y="742" width="210" height="27" rx="5"/><text class="t" x="721.5" y="762" style="letter-spacing:2.6px">常见文件和文件夹函数</text></g>
<g id="n-getcwd"><path class="u" d="M591.2 648.3H493.2"/><text class="c e" x="588" y="643.3">os.getcwd()</text></g>
<g id="n-getcwd-d"><path class="u" d="M489.2 641.8H304.6"/><text class="l e" x="485.2" y="636.8">返回当前工作目录的名称</text></g>
<g id="n-listdir"><path class="u" d="M591.2 689.3H498.6"/><text class="c e" x="588" y="684.3">os.listdir(p)</text></g>
<g id="n-listdir-d"><path class="u" d="M494.6 682.8H40.7"/><text class="l e" x="490.6" y="677.8">返回字符串列表，路径P指定的文件夹包含的文件及文件夹名称</text></g>
<g id="n-chdir"><path class="u" d="M591.2 731H512"/><text class="c e" x="588" y="726">os.chdir(p)</text></g>
<g id="n-chdir-d"><path class="u" d="M508 724.5H335"/><text class="l e" x="504" y="719.5">当前路径设置为路径p</text></g>
<g id="n-isfile"><path class="u" d="M591.2 771.7H471.5"/><text class="c e" x="588" y="766.7">os.path.isfile(p)</text></g>
<g id="n-isfile-d"><path class="u" d="M467.5 765.2H150.7"/><text class="l e" x="463.5" y="760.2">路径p指定的是一个文件的名称,True 或False</text></g>
<g id="n-isdir"><path class="u" d="M591.2 813.3H474.3"/><text class="c e" x="588" y="808.3">os.path.isdir(p)</text></g>
<g id="n-isdir-d"><path class="u" d="M470.3 806.8H152.8"/><text class="e" x="466.3" y="801.8" style="font-size:14.5px">路径p指定的是一个文件j夹的名称,True 或False</text></g>
<g id="n-stat"><path class="u" d="M591.2 855H477"/><text class="c e" x="588" y="850">os.stat(fname)</text></g>
<g id="n-stat-d"><path class="u" d="M473 848.5H101.9"/><text class="l e" x="469" y="843.5">返回有关fname的信息，如大小、最后修改时间等等</text></g>

<g id="n-dict"><rect class="box" x="730.5" y="1110" width="94.5" height="27" rx="5"/><text class="t" x="778.2" y="1130.5">字典函数</text></g>
<g id="n-items"><path class="u" d="M707.6 913.3H628.9"/><text class="c e" x="704.5" y="908.3">d.items()</text></g>
<g id="n-items-d"><path class="u" d="M624.9 907.3H332.4"/><text class="l e" x="620.9" y="902.3">返回字典d的键-值对组成的视图（view）</text></g>
<g id="n-keys"><path class="u" d="M707.6 955H633.7"/><text class="c e" x="704.5" y="950">d.keys()</text></g>
<g id="n-keys-d"><path class="u" d="M629.7 949H357.7"/><text class="l e" x="625.7" y="944">返回字典d的键对组成的视图（view）</text></g>
<g id="n-values"><path class="u" d="M707.6 996.7H621.7"/><text class="c e" x="704.5" y="991.7">d.values()</text></g>
<g id="n-values-d"><path class="u" d="M617.7 990.7H345.3"/><text class="l e" x="613.7" y="985.7">返回字典d的值对组成的视图（view）</text></g>
<g id="n-get"><path class="u" d="M707.6 1038.3H621.7"/><text class="c e" x="704.5" y="1033.3">d.get(key)</text></g>
<g id="n-get-d"><path class="u" d="M617.7 1032.3H473.5"/><text class="l e" x="613.7" y="1027.3">返回与key关联的值</text></g>
<g id="n-dpop"><path class="u" d="M707.6 1080H617"/><text class="c e" x="704.5" y="1075">d.pop(key)</text></g>
<g id="n-dpop-d"><path class="u" d="M613 1074H436.2"/><text class="l e" x="609" y="1069">删除key并返回对应的值</text></g>
<g id="n-popitem"><path class="u" d="M707.6 1121.7H612.1"/><text class="c e" x="704.5" y="1116.7">d.popitem()</text></g>
<g id="n-popitem-d"><path class="u" d="M608.1 1115.7H486.4"/><text class="l e" x="604.1" y="1110.7">返回某个键值对</text></g>
<g id="n-clear"><path class="u" d="M707.6 1162.7H631.3"/><text class="c e" x="704.5" y="1157.7">d.clear()</text></g>
<g id="n-clear-d"><path class="u" d="M627.3 1156.7H588.2"/><text class="l e" x="623.3" y="1151.7">清空</text></g>
<g id="n-copy"><path class="u" d="M707.6 1203.3H631.3"/><text class="c e" x="704.5" y="1198.3">d.copy()</text></g>
<g id="n-copy-d"><path class="u" d="M627.3 1197.3H588.2"/><text class="l e" x="623.3" y="1192.3">复制</text></g>
<g id="n-fromkeys"><path class="u" d="M707.6 1245H590.6"/><text class="c e" x="704.5" y="1240">d.fromkeys(s,t)</text></g>
<g id="n-fromkeys-d"><path class="u" d="M586.6 1239H368.2"/><text class="l e" x="582.6" y="1234">重新建词典，键来自s,值来自t</text></g>
<g id="n-setdefault"><path class="u" d="M707.6 1286H566.7"/><text class="c e" x="704.5" y="1281">d.setdefault(key,v)</text></g>
<g id="n-setdefault-d"><path class="u" d="M562.7 1280H126.7"/><text class="l e" x="558.7" y="1275">如果key在d中，则返回对应值，否则返回V，并添加此键值对</text></g>
<g id="n-update"><path class="u" d="M707.6 1326.7H609.8"/><text class="c e" x="704.5" y="1321.7">d.update(e)</text></g>
<g id="n-update-d"><path class="u" d="M605.8 1320.7H252"/><text class="l e" x="601.8" y="1315.7">将e加入到d中，e可能是词典也可能是键值对序列</text></g>

<g id="n-list"><rect class="box" x="730.7" y="1540.7" width="94" height="27.6" rx="5"/><text class="t" x="778.2" y="1561.5">列表函数</text></g>
<g id="n-append"><path class="u" d="M707.8 1386.7H608.4"/><text class="c e" x="704.5" y="1381.7">s.append(x)</text></g>
<g id="n-append-d"><path class="u" d="M604.4 1380.7H492.3"/><text class="l e" x="600.4" y="1375.7">在列表末尾加x</text></g>
<g id="n-lcount"><path class="u" d="M707.8 1427.7H620.8"/><text class="c e" x="704.5" y="1422.7">s.count(x)</text></g>
<g id="n-lcount-d"><path class="u" d="M616.8 1421.7H498.5"/><text class="l e" x="612.8" y="1416.7">x在s出现的次数</text></g>
<g id="n-extend"><path class="u" d="M707.8 1469.3H602.2"/><text class="c e" x="704.5" y="1464.3">s.extend(list)</text></g>
<g id="n-extend-d"><path class="u" d="M598.2 1463.3H420.6"/><text class="l e" x="594.2" y="1458.3">将list所有元素加到s末尾</text></g>
<g id="n-lindex"><path class="u" d="M707.8 1510.7H620.8"/><text class="c e" x="704.5" y="1505.7">s.index(x)</text></g>
<g id="n-lindex-d"><path class="u" d="M616.8 1504.7H474.5"/><text class="l e" x="612.8" y="1499.7">返回第一个x的索引</text></g>
<g id="n-insert"><path class="u" d="M707.8 1551.7H612.5"/><text class="c e" x="704.5" y="1546.7">s.insert(i,x)</text></g>
<g id="n-insert-d"><path class="u" d="M608.5 1545.7H280.8"/><text class="l e" x="604.5" y="1540.7">将元素x插入到索引为i的元素前面，结果s[i]=x</text></g>
<g id="n-lpop"><path class="u" d="M707.8 1592.7H637.4"/><text class="c e" x="704.5" y="1587.7">s.pop(i)</text></g>
<g id="n-lpop-d"><path class="u" d="M633.4 1586.7H444.6"/><text class="l e" x="629.4" y="1581.7">删除并返回索引为i的元素</text></g>
<g id="n-remove"><path class="u" d="M707.8 1634H608.4"/><text class="c e" x="704.5" y="1629">s.remove(x)</text></g>
<g id="n-remove-d"><path class="u" d="M604.4 1628H452.1"/><text class="l e" x="600.4" y="1623">删除s中第一个x元素</text></g>
<g id="n-reverse"><path class="u" d="M707.8 1675H616.7"/><text class="c e" x="704.5" y="1670">s.reverse()</text></g>
<g id="n-reverse-d"><path class="u" d="M612.7 1669H506.8"/><text class="l e" x="608.7" y="1664">反转排雷顺序</text></g>
<g id="n-sourt"><path class="u" d="M707.8 1716.7H631.2"/><text class="c e" x="704.5" y="1711.7">s.sourt()</text></g>
<g id="n-sourt-d"><path class="u" d="M627.2 1710.7H507.6"/><text class="l e" x="623.2" y="1705.7">将元素升序排列</text></g>

<text class="wm" x="1882" y="2337">CSDN @王守谦26</text>
</svg>
